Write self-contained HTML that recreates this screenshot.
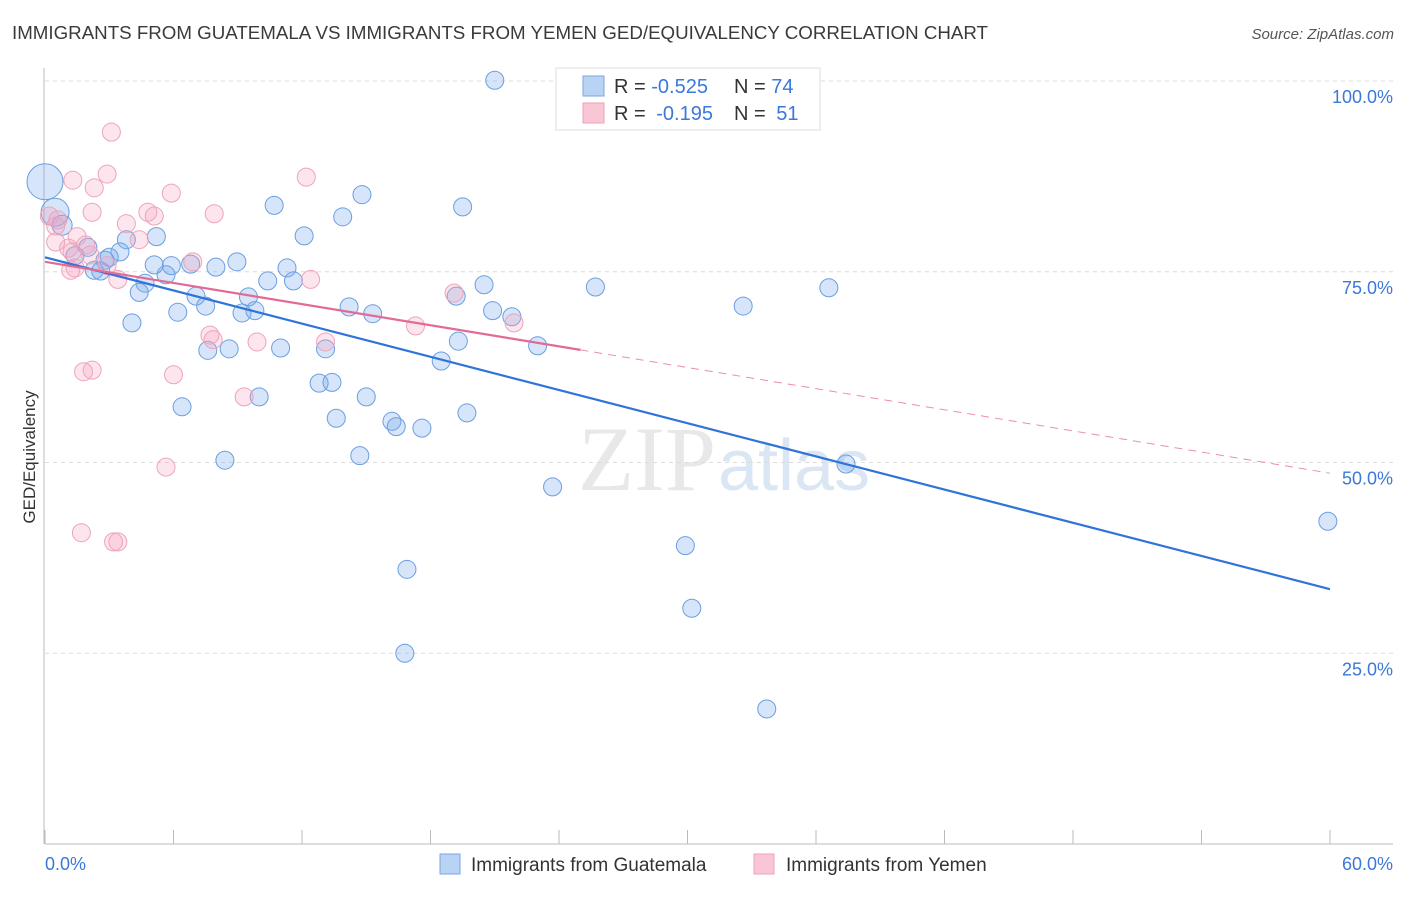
<!DOCTYPE html>
<html><head><meta charset="utf-8">
<style>
body{margin:0;background:#fff;font-family:"Liberation Sans",sans-serif;}
</style></head>
<body>
<svg id="chart" width="1406" height="892" xmlns="http://www.w3.org/2000/svg" font-family="Liberation Sans, sans-serif">
<text x="12" y="39" font-size="18" fill="#3a3a3a" textLength="976" lengthAdjust="spacingAndGlyphs">IMMIGRANTS FROM GUATEMALA VS IMMIGRANTS FROM YEMEN GED/EQUIVALENCY CORRELATION CHART</text>
<text x="1394" y="39" font-size="15" fill="#555" text-anchor="end" font-style="italic">Source: ZipAtlas.com</text>
<text x="716" y="490" font-size="92" fill="#e8e8e8" text-anchor="end" font-family="Liberation Serif, serif">ZIP</text>
<text x="718" y="490" font-size="72" fill="#dbe6f5">atlas</text>
<g id="grid"></g>
<g id="axes"></g>
<g id="pts"></g>
<g id="lines"></g>
<text transform="translate(35,457) rotate(-90)" font-size="17" fill="#333" text-anchor="middle">GED/Equivalency</text>
<g>
<rect x="556" y="68" width="264" height="62" fill="#fff" stroke="#ddd"/>
<rect x="583" y="76" width="21" height="20" fill="#b9d3f5" stroke="#7aa6e0"/>
<rect x="583" y="103" width="21" height="20" fill="#f9c6d6" stroke="#eea0b8"/>
<text x="614" y="93" font-size="20" fill="#333">R = <tspan fill="#3b78d8">-0.525</tspan></text>
<text x="734" y="93" font-size="20" fill="#333">N = <tspan fill="#3b78d8">74</tspan></text>
<text x="614" y="120" font-size="20" fill="#333">R = <tspan fill="#3b78d8" dx="5">-0.195</tspan></text>
<text x="734" y="120" font-size="20" fill="#333">N = <tspan fill="#3b78d8" dx="5">51</tspan></text>
</g>
<g>
<rect x="440" y="854" width="20" height="20" fill="#b9d3f5" stroke="#7aa6e0"/>
<text x="471" y="871" font-size="19" fill="#333">Immigrants from Guatemala</text>
<rect x="754" y="854" width="20" height="20" fill="#f9c6d6" stroke="#eea0b8"/>
<text x="786" y="871" font-size="19" fill="#333">Immigrants from Yemen</text>
</g>
</svg>
<script>
const yTicks=[100,75,50,25];
const yTickLabels=["100.0%","75.0%","50.0%","25.0%"];
const xTicks=[0,6,12,18,24,30,36,42,48,54,60];
const blueX=[21.0,0,0.47,0.8,10.7,14.8,13.9,19.5,12.1,5.2,3.8,2.0,3.5,3.0,1.4,2.8,2.3,2.6,5.1,5.9,6.8,7.98,8.96,11.3,5.65,4.67,10.4,11.6,20.5,25.7,36.6,4.4,7.05,9.5,19.2,7.5,14.2,32.6,6.2,9.2,9.8,15.3,20.9,21.8,4.06,19.3,23.0,7.6,8.6,11.0,13.1,18.5,12.8,13.4,15.0,10.0,6.4,19.7,13.6,16.2,16.4,17.6,14.7,8.4,37.4,23.7,59.9,29.9,16.9,30.2,16.8,33.7];
const blueY=[100.1,86.8,82.8,81.1,83.7,85.1,82.2,83.5,79.7,79.6,79.2,78.2,77.6,76.9,77.1,76.5,75.2,75.1,75.9,75.8,76.0,75.6,76.3,75.5,74.6,73.5,73.8,73.8,73.3,73.0,72.9,72.3,71.8,71.7,71.8,70.5,70.4,70.5,69.7,69.6,69.9,69.5,69.9,69.1,68.3,65.9,65.3,64.7,64.9,65.0,64.9,63.3,60.4,60.5,58.6,58.6,57.3,56.5,55.8,55.4,54.7,54.5,50.9,50.3,49.8,46.8,42.3,39.1,36.0,30.9,25.0,17.7];
const blueSize=[9,18,14,10,9,9,9,9,9,9,9,9,9,9,9,9,9,9,9,9,9,9,9,9,9,9,9,9,9,9,9,9,9,9,9,9,9,9,9,9,9,9,9,9,9,9,9,9,9,9,9,9,9,9,9,9,9,9,9,9,9,9,9,9,9,9,9,9,9,9,9,9];
const pinkX=[3.1,2.3,2.9,1.3,5.9,12.2,2.2,4.8,5.1,7.9,3.8,0.2,0.5,0.6,4.4,1.5,0.5,1.1,1.26,1.9,2.1,6.9,2.9,1.2,1.4,3.4,12.4,19.1,21.9,17.3,7.7,7.85,9.9,13.1,1.8,2.2,6.0,9.3,5.65,1.7,3.2,3.4];
const pinkY=[93.3,86.0,87.8,87.0,85.3,87.4,82.8,82.8,82.3,82.6,81.3,82.3,81.0,81.8,79.2,79.6,78.9,78.1,77.6,78.5,77.2,76.3,75.8,75.2,75.5,74.0,74.0,72.2,68.3,67.9,66.7,66.1,65.8,65.8,61.9,62.1,61.5,58.6,49.4,40.8,39.6,39.6];
const blueTrend=[76.9,33.4];
const pinkTrend=[76.3,48.6];
const pinkSolidEnd=25.0;
const NS="http://www.w3.org/2000/svg";
const xs=v=>45+v/60*1285;
const ys=v=>844-v/100*763;
function mk(t,a,p){const e=document.createElementNS(NS,t);for(const k in a)e.setAttribute(k,a[k]);p.appendChild(e);return e;}
const grid=document.getElementById('grid'),axes=document.getElementById('axes'),pts=document.getElementById('pts'),lines=document.getElementById('lines');
yTicks.forEach((v,i)=>{
 const l=mk('line',{x1:45,x2:1393,y1:ys(v),y2:ys(v),stroke:'#dcdcdc','stroke-dasharray':'4,4'},grid);
 
 
 const t=mk('text',{x:1393,y:ys(v)+22,'font-size':18,fill:'#3b78d8','text-anchor':'end'},axes);
 t.textContent=yTickLabels[i];
 
 
});
const ax=mk('line',{x1:45,x2:1393,y1:844,y2:844,stroke:'#bbb'},axes);


const ay=mk('line',{x1:44,x2:44,y1:68,y2:844,stroke:'#bbb'},axes);


xTicks.forEach(v=>{const t=mk('line',{x1:xs(v),x2:xs(v),y1:830,y2:844,stroke:'#bbb'},axes);
 
 });
const xl0=mk('text',{x:45,y:870,'font-size':18,fill:'#3b78d8'},axes);xl0.textContent='0.0%';


const xl1=mk('text',{x:1393,y:870,'font-size':18,fill:'#3b78d8','text-anchor':'end'},axes);xl1.textContent='60.0%';


blueX.forEach((v,i)=>{const c=mk('circle',{cx:xs(v),cy:ys(blueY[i]),r:blueSize[i]||9,fill:'rgba(120,170,235,0.3)',stroke:'#6b9fe0','stroke-width':1},pts);
 
 });
pinkX.forEach((v,i)=>{const c=mk('circle',{cx:xs(v),cy:ys(pinkY[i]),r:9,fill:'rgba(245,160,190,0.28)',stroke:'#eea4bb','stroke-width':1},pts);
 
 });
const bl=mk('line',{x1:xs(0),y1:ys(blueTrend[0]),x2:xs(60),y2:ys(blueTrend[1]),stroke:'#2f74d8','stroke-width':2.2},lines);


const pAt=x=>pinkTrend[0]+(pinkTrend[1]-pinkTrend[0])*x/60;
const pl=mk('line',{x1:xs(0),y1:ys(pAt(0)),x2:xs(pinkSolidEnd),y2:ys(pAt(pinkSolidEnd)),stroke:'#e26a94','stroke-width':2.2},lines);


const pd=mk('line',{x1:xs(pinkSolidEnd),y1:ys(pAt(pinkSolidEnd)),x2:xs(60),y2:ys(pAt(60)),stroke:'#e890ac','stroke-width':1,'stroke-dasharray':'8,6'},lines);


</script>
</body></html>
